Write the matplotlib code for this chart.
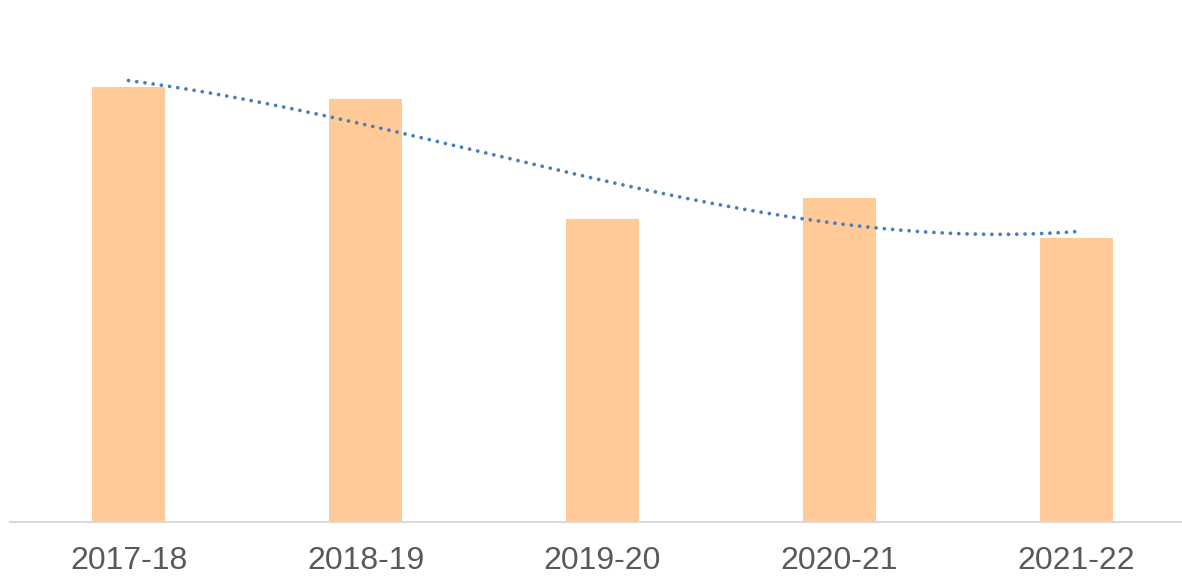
import numpy as np
import matplotlib
matplotlib.use("Agg")
import matplotlib.pyplot as plt

plt.rcParams['font.family'] = ['Liberation Sans', 'DejaVu Sans']

years = ['2017-18', '2018-19', '2019-20', '2020-21', '2021-22']
values = [435, 423, 303, 324, 284]

bar_color = '#FFCA97'
trend_color = '#4A7EBB'

fig = plt.figure(figsize=(11.82, 5.76), dpi=100)
# axes run a little past the right edge, like the original
ax = fig.add_axes([10 / 1182, 54 / 576, 1185 / 1182, 502 / 576])

x = np.arange(len(years))
ax.bar(x, values, width=0.31, color=bar_color, zorder=2)

# cubic polynomial trendline
coef = np.polyfit(x, values, 3)
xs = np.linspace(0, len(years) - 1, 200)
ax.plot(xs, np.polyval(coef, xs), color=trend_color, lw=2.7,
        linestyle=(0, (0.01, 2.2)), dash_capstyle='round', zorder=3)

ax.set_xlim(-0.5, len(years) - 0.5)
ax.set_ylim(0, 502)
ax.set_xticks(x)
ax.set_xticklabels(years, fontsize=23, color='#595959')
ax.tick_params(axis='x', length=0, pad=17)
ax.set_yticks([])
for side in ['top', 'right', 'left']:
    ax.spines[side].set_visible(False)
ax.spines['bottom'].set_color('#D9D9D9')
ax.spines['bottom'].set_linewidth(1.5)

fig.savefig('out.png', dpi=100)
